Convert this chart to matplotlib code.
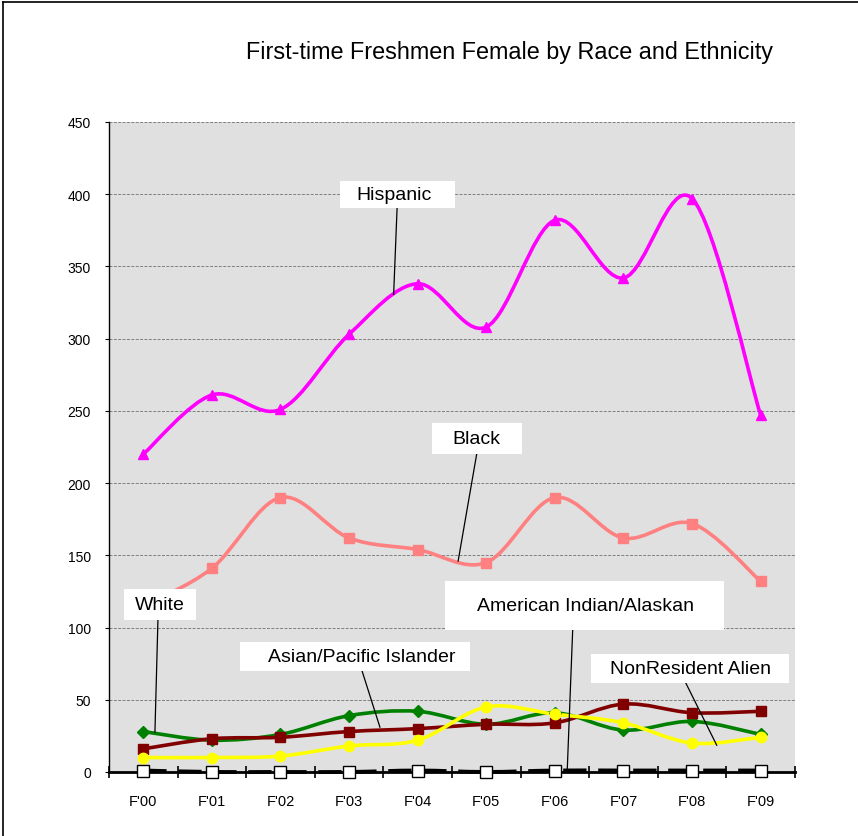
import numpy as np
import matplotlib
matplotlib.use("Agg")
import matplotlib.pyplot as plt
from matplotlib.path import Path
from matplotlib.patches import PathPatch, Rectangle
from matplotlib.lines import Line2D

plt.rcParams['font.family'] = ['Liberation Sans', 'DejaVu Sans']

years = ["F'00", "F'01", "F'02", "F'03", "F'04", "F'05", "F'06", "F'07", "F'08", "F'09"]
hispanic = [220, 261, 251, 303, 338, 308, 382, 342, 397, 247]
black = [115, 141, 190, 162, 154, 145, 190, 162, 172, 132]
white = [28, 22, 26, 39, 42, 33, 41, 29, 35, 26]
asian = [16, 23, 24, 28, 30, 33, 34, 47, 41, 42]
nonres = [10, 10, 11, 18, 22, 45, 40, 34, 20, 24]
amind = [1, 0, 0, 0, 1, 0, 1, 1, 1, 1]


def smooth_path(x, y):
    # Excel-style smoothed line: bezier segments with Catmull-Rom control points
    pts = np.column_stack([x, y]).astype(float)
    n = len(pts)
    verts = [pts[0]]
    codes = [Path.MOVETO]
    for i in range(n - 1):
        p0 = pts[max(i - 1, 0)]
        p1 = pts[i]
        p2 = pts[i + 1]
        p3 = pts[min(i + 2, n - 1)]
        c1 = p1 + (p2 - p0) / 6.0
        c2 = p2 - (p3 - p1) / 6.0
        verts += [c1, c2, p2]
        codes += [Path.CURVE4] * 3
    return Path(verts, codes)


fig = plt.figure(figsize=(8.58, 8.37), dpi=100)
ax = fig.add_axes([0.127, 0.0765, 0.7995, 0.7766])
ax.set_facecolor('#E0E0E0')

x = np.arange(len(years))
series = [
    (hispanic, '#FF00FF', '^'),
    (black, '#FF8080', 's'),
    (white, '#008000', 'D'),
    (asian, '#800000', 's'),
    (nonres, '#FFFF00', 'o'),
]
for vals, col, mk in series:
    ax.add_patch(PathPatch(smooth_path(x, vals), facecolor='none', edgecolor=col,
                           lw=2.6, zorder=3, capstyle='round'))
    ms = 6 if mk == 'D' else 7.5
    ax.plot(x, vals, ls='none', marker=mk, ms=ms, mfc=col, mec=col, zorder=4)

# American Indian/Alaskan: dashed black with white squares
ax.add_patch(PathPatch(smooth_path(x, amind), facecolor='none', edgecolor='black',
                       lw=2.8, ls=(0, (6, 3)), zorder=3.5, clip_on=False))
ax.plot(x, amind, ls='none', marker='s', ms=8, mfc='white', mec='black', mew=1,
        zorder=4.5, clip_on=False)

ax.set_xlim(-0.5, 9.5)
ax.set_ylim(0, 450)
ax.set_yticks(np.arange(0, 451, 50))
ax.yaxis.grid(True, color='#808080', ls=(0, (3, 1.5)), lw=0.7)
ax.set_axisbelow(True)
ax.set_xticks(x)
ax.set_xticklabels(years, fontsize=10.5)
ax.set_xticks(np.arange(-0.5, 10, 1), minor=True)
ax.tick_params(axis='x', which='major', length=0, pad=16)
ax.tick_params(axis='x', which='minor', direction='inout', length=8, width=1.2)
ax.tick_params(axis='y', direction='out', length=3, width=0.8, labelsize=10, pad=10)
for s in ['top', 'right']:
    ax.spines[s].set_visible(False)
ax.spines['left'].set_linewidth(1)
ax.spines['bottom'].set_linewidth(2)
ax.spines['bottom'].set_zorder(3.2)

ax.set_title('First-time Freshmen Female by Race and Ethnicity', fontsize=16.8,
             x=0.584, y=1.0, pad=46)

# callout labels: text, text position, box (x0, x1, y0, y1), leader line (start, end)
labels = [
    ('Hispanic', (3.65, 399.5), (2.867, 4.544, 390.2, 408.9), ((3.70, 390.2), (3.65, 330.6))),
    ('Black', (4.86, 230.6), (4.208, 5.52, 219.9, 241.4), ((4.86, 219.9), (4.59, 146))),
    ('White', (0.24, 116.2), (-0.28, 0.768, 105.5, 126.9), ((0.214, 105.5), (0.17, 27.5))),
    ('Asian/Pacific Islander', (3.19, 80), (1.41, 4.76, 69.9, 90.0), ((3.19, 69.9), (3.45, 31))),
    ('American Indian/Alaskan', (6.44, 115.3), (4.40, 8.465, 98.3, 132.3), ((6.26, 98.3), (6.18, 0.5))),
    ('NonResident Alien', (7.98, 71.6), (6.526, 9.41, 61.5, 81.7), ((7.91, 61.5), (8.36, 18.5))),
]
for txt, tpos, box, leader in labels:
    x0, x1, y0, y1 = box
    ax.add_patch(Rectangle((x0, y0), x1 - x0, y1 - y0, facecolor='white',
                           edgecolor='none', zorder=6, clip_on=False))
    ax.text(tpos[0], tpos[1], txt, fontsize=14, ha='center', va='center', zorder=7)
    (lx0, ly0), (lx1, ly1) = leader
    ax.plot([lx0, lx1], [ly0, ly1], color='black', lw=0.9, zorder=5.5)

# outer chart frame (top and left edges visible)
fig.add_artist(Line2D([0.0035, 0.0035], [0, 0.996], color='black', lw=1.2,
                      transform=fig.transFigure))
fig.add_artist(Line2D([0.0035, 1], [0.996, 0.996], color='black', lw=1.2,
                      transform=fig.transFigure))

fig.savefig('out.png', dpi=100)
